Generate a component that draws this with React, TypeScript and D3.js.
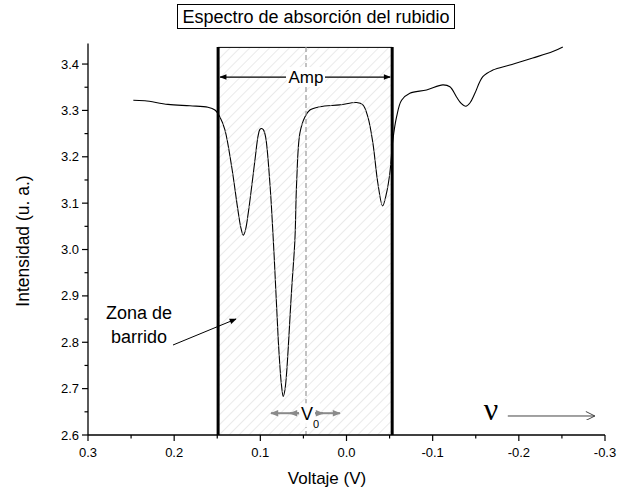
import React from 'react';
import * as d3 from 'd3';

// Rb absorption trace (voltage in V, intensity in a.u.)
const voltage = [
  0.2474, 0.2339, 0.2072, 0.1817, 0.1608, 0.1527, 0.1469, 0.1411, 0.1333, 0.126,
  0.1225, 0.1198, 0.1173, 0.114, 0.1063, 0.1028, 0.1005, 0.0985, 0.0964, 0.0939,
  0.0889, 0.0839, 0.0792, 0.0755, 0.0734, 0.0715, 0.0695, 0.0637, 0.0599, 0.0579,
  0.0541, 0.0483, 0.0425, 0.0309, 0.0077, -0.0117, -0.019, -0.0248, -0.0306,
  -0.0364, -0.0419, -0.0465, -0.0503, -0.0538, -0.0581, -0.0639, -0.0735, -0.0929,
  -0.1118, -0.12, -0.1277, -0.1327, -0.1385, -0.1432, -0.149, -0.1582, -0.1698,
  -0.1896, -0.2162, -0.2394, -0.251,
];
const intensity = [
  3.322, 3.321, 3.313, 3.31, 3.307, 3.301, 3.286, 3.258, 3.179, 3.085,
  3.046, 3.031, 3.042, 3.079, 3.192, 3.243, 3.259, 3.261, 3.258, 3.243,
  3.143, 2.984, 2.805, 2.708, 2.683, 2.697, 2.734, 2.913, 3.02, 3.143,
  3.251, 3.286, 3.301, 3.308, 3.312, 3.317, 3.312, 3.286, 3.23,
  3.143, 3.094, 3.122, 3.165, 3.236, 3.286, 3.322, 3.337, 3.344,
  3.355, 3.351, 3.329, 3.316, 3.309, 3.316, 3.337, 3.373, 3.387,
  3.398, 3.413, 3.427, 3.437,
];

const xTicks = [0.3, 0.2, 0.1, 0.0, -0.1, -0.2, -0.3];
const xMinor = [0.25, 0.15, 0.05, -0.05, -0.15, -0.25];
const yTicks = [2.6, 2.7, 2.8, 2.9, 3.0, 3.1, 3.2, 3.3, 3.4];
const yMinor = [2.65, 2.75, 2.85, 2.95, 3.05, 3.15, 3.25, 3.35];

const sweepZone = [0.149, -0.053];
const centerV = 0.047;

const W = 626;
const H = 494;
const font = 'Arial, "Liberation Sans", sans-serif';

const App: React.FC = () => {
  const x = d3.scaleLinear().domain([0.3, -0.3]).range([88, 605]);
  const y = d3.scaleLinear().domain([2.6, 3.44]).range([435, 45.5]);

  const pts: [number, number][] = voltage.map((v, i) => [x(v), y(intensity[i])]);
  const line = d3.line().curve(d3.curveCatmullRom.alpha(0.5))(pts) || '';

  const x0 = x(0.3);
  const zx0 = x(sweepZone[0]);
  const zx1 = x(sweepZone[1]);
  const cx = x(centerV);
  const top = y(3.44);
  const boxTop = y(3.437);
  const bottom = y(2.6);
  const ampY = y(3.372);
  const v0Y = y(2.647);
  const nuY = y(2.641);

  return (
    <svg width={W} height={H} style={{ position: 'absolute', left: 0, top: 0, background: '#fff' }}>
      <defs>
        <pattern id="hatch" width="7" height="7" patternUnits="userSpaceOnUse" patternTransform="rotate(45)">
          <line x1="0" y1="0" x2="0" y2="7" stroke="#d6d6d6" strokeWidth="1" />
        </pattern>
        <marker id="ahBlack" viewBox="0 0 10 10" refX="9" refY="5" markerWidth="9" markerHeight="7" orient="auto-start-reverse" markerUnits="userSpaceOnUse">
          <path d="M0,1 L10,5 L0,9 Z" fill="#000" />
        </marker>
        <marker id="ahGray" viewBox="0 0 10 10" refX="9" refY="5" markerWidth="10" markerHeight="8" orient="auto" markerUnits="userSpaceOnUse">
          <path d="M0,1 L10,5 L0,9 Z" fill="#8a8a8a" />
        </marker>
        <marker id="ahOpen" viewBox="0 0 10 10" refX="10" refY="5" markerWidth="10" markerHeight="9" orient="auto" markerUnits="userSpaceOnUse">
          <path d="M0,0 L10,5 L0,10" fill="none" stroke="#333" strokeWidth="1" />
        </marker>
      </defs>

      {/* title */}
      <rect x={177.5} y={4.5} width={277} height={24} fill="#fff" stroke="#000" strokeWidth={1} />
      <text x={316} y={23} textAnchor="middle" fontFamily={font} fontSize={18}>
        Espectro de absorción del rubidio
      </text>

      {/* data curve */}
      <path d={line} fill="none" stroke="#000" strokeWidth={1.1} />

      {/* sweep zone */}
      <rect x={zx0} y={boxTop} width={zx1 - zx0} height={bottom - boxTop} fill="url(#hatch)" />
      <line x1={zx0} x2={zx1} y1={boxTop + 0.5} y2={boxTop + 0.5} stroke="#000" strokeWidth={1} />
      <line x1={zx0} x2={zx0} y1={boxTop} y2={bottom} stroke="#000" strokeWidth={3} />
      <line x1={zx1} x2={zx1} y1={boxTop} y2={bottom} stroke="#000" strokeWidth={3} />
      <line x1={cx} x2={cx} y1={boxTop} y2={bottom} stroke="#999" strokeWidth={1.2} strokeDasharray="5,3" />

      {/* Amp */}
      <line x1={zx0 + 2} x2={cx - 20} y1={ampY} y2={ampY} stroke="#000" strokeWidth={1.2} markerStart="url(#ahBlack)" />
      <line x1={cx + 19} x2={zx1 - 2} y1={ampY} y2={ampY} stroke="#000" strokeWidth={1.2} markerEnd="url(#ahBlack)" />
      <rect x={cx - 19} y={ampY - 10} width={38} height={20} fill="#fff" />
      <text x={cx} y={ampY + 6} textAnchor="middle" fontFamily={font} fontSize={17}>Amp</text>

      {/* v0 */}
      <rect x={cx - 6} y={v0Y - 10} width={20} height={24} fill="#fff" opacity={0.9} />
      <line x1={cx - 7} x2={cx - 35} y1={v0Y} y2={v0Y} stroke="#8a8a8a" strokeWidth={2} markerEnd="url(#ahGray)" />
      <line x1={cx - 7} x2={cx - 16} y1={v0Y} y2={v0Y} stroke="#8a8a8a" strokeWidth={2} markerEnd="url(#ahGray)" />
      <line x1={cx + 9} x2={cx + 34} y1={v0Y} y2={v0Y} stroke="#8a8a8a" strokeWidth={2} markerEnd="url(#ahGray)" />
      <line x1={cx + 9} x2={cx + 17} y1={v0Y} y2={v0Y} stroke="#8a8a8a" strokeWidth={2} markerEnd="url(#ahGray)" />
      <text x={cx + 1} y={v0Y + 7} textAnchor="middle" fontFamily={font} fontSize={18}>V</text>
      <text x={cx + 10} y={v0Y + 15} textAnchor="middle" fontFamily={font} fontSize={11}>0</text>

      {/* zona de barrido */}
      <text x={139} y={319} textAnchor="middle" fontFamily={font} fontSize={18}>Zona de</text>
      <text x={139} y={343} textAnchor="middle" fontFamily={font} fontSize={18}>barrido</text>
      <line x1={173} y1={345} x2={236} y2={319} stroke="#000" strokeWidth={1} markerEnd="url(#ahBlack)" />

      {/* nu arrow */}
      <text x={491} y={420} textAnchor="middle" fontFamily='"Liberation Serif", "Times New Roman", serif' fontSize={32}>ν</text>
      <line x1={x(-0.1872)} x2={x(-0.2882)} y1={nuY} y2={nuY} stroke="#444" strokeWidth={1} markerEnd="url(#ahOpen)" />

      {/* x axis */}
      <line x1={x0} x2={x(-0.3)} y1={bottom} y2={bottom} stroke="#000" strokeWidth={1.3} />
      {xTicks.map((t) => (
        <g key={`xt${t}`}>
          <line x1={x(t)} x2={x(t)} y1={bottom} y2={bottom + 6} stroke="#000" strokeWidth={1.2} />
          <text x={x(t)} y={bottom + 22} textAnchor="middle" fontFamily={font} fontSize={13}>
            {t.toFixed(1) === '-0.0' ? '0.0' : t.toFixed(1)}
          </text>
        </g>
      ))}
      {xMinor.map((t) => (
        <line key={`xm${t}`} x1={x(t)} x2={x(t)} y1={bottom} y2={bottom + 3.5} stroke="#000" strokeWidth={1.2} />
      ))}
      <text x={327} y={484} textAnchor="middle" fontFamily={font} fontSize={17}>Voltaje (V)</text>

      {/* y axis */}
      <line x1={x0} x2={x0} y1={top - 2} y2={bottom} stroke="#000" strokeWidth={1.3} />
      {yTicks.map((t) => (
        <g key={`yt${t}`}>
          <line x1={x0 - 6} x2={x0} y1={y(t)} y2={y(t)} stroke="#000" strokeWidth={1.2} />
          <text x={x0 - 9} y={y(t) + 4.5} textAnchor="end" fontFamily={font} fontSize={13}>
            {t.toFixed(1)}
          </text>
        </g>
      ))}
      {yMinor.map((t) => (
        <line key={`ym${t}`} x1={x0 - 3.5} x2={x0} y1={y(t)} y2={y(t)} stroke="#000" strokeWidth={1.2} />
      ))}
      <text
        transform={`translate(29,241) rotate(-90)`}
        textAnchor="middle"
        fontFamily={font}
        fontSize={17.5}
      >
        Intensidad (u. a.)
      </text>
    </svg>
  );
};

export default App;
